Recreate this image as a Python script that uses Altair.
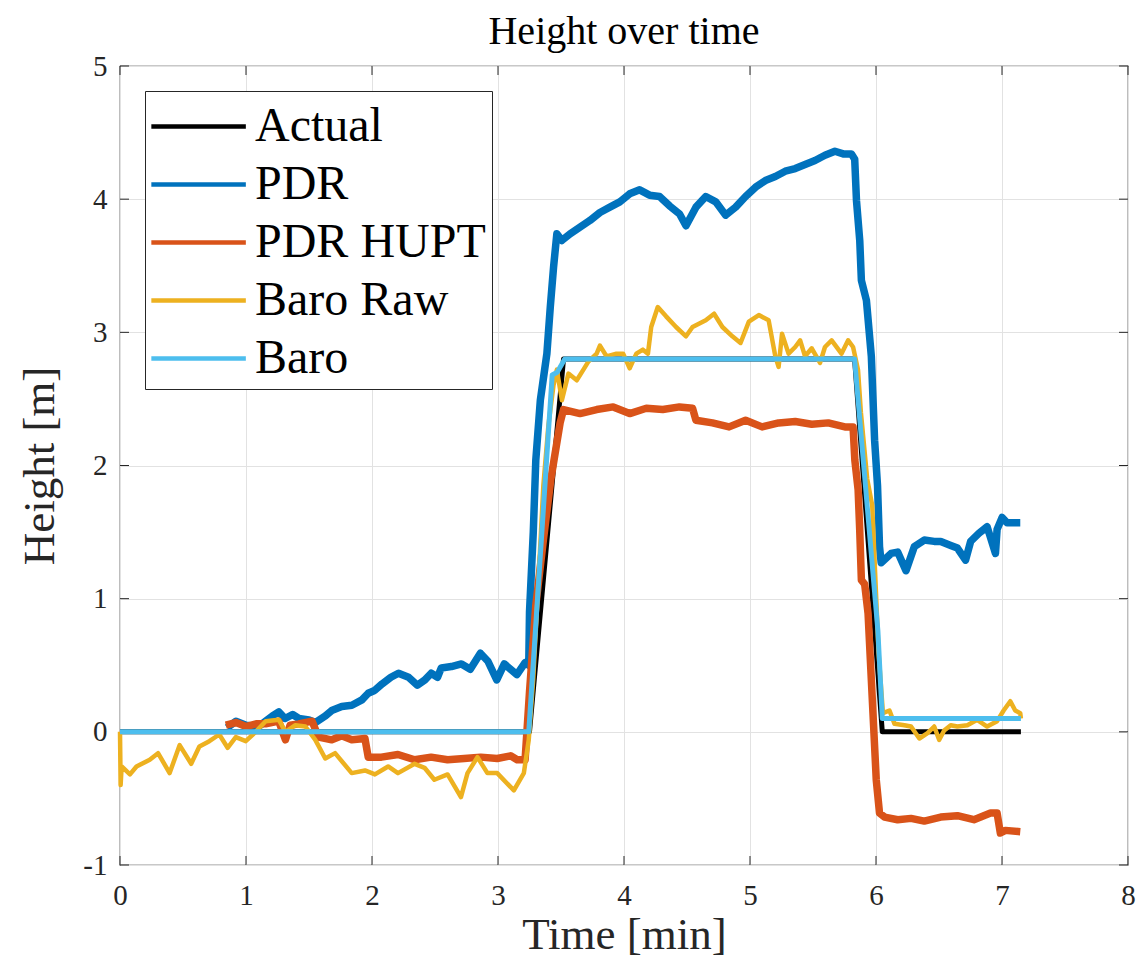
import altair as alt
import pandas as pd

names = ["Actual", "PDR", "PDR HUPT", "Baro Raw", "Baro"]
colors = ["#000000", "#0072BD", "#D95319", "#EDB120", "#4DBEEE"]
widths = [5, 7.5, 7.5, 4.5, 5]

x_ticks = [0, 1, 2, 3, 4, 5, 6, 7, 8]
y_ticks = [-1, 0, 1, 2, 3, 4, 5]

actual = [(0.0, 0.0), (3.25, 0.0), (3.52, 2.8), (5.83, 2.8), (6.05, 0.0), (7.15, 0.0)]

pdr = [(0.85, 0.03), (0.92, 0.08), (1.00, 0.05), (1.10, 0.04), (1.21, 0.12), (1.26, 0.15),
       (1.31, 0.10), (1.37, 0.13), (1.42, 0.10), (1.50, 0.09), (1.55, 0.07), (1.63, 0.12),
       (1.68, 0.16), (1.76, 0.19), (1.84, 0.20), (1.92, 0.24), (1.97, 0.29), (2.02, 0.31),
       (2.08, 0.36), (2.15, 0.41), (2.21, 0.44), (2.29, 0.41), (2.36, 0.35), (2.42, 0.39),
       (2.47, 0.44), (2.52, 0.41), (2.55, 0.48), (2.63, 0.49), (2.71, 0.51), (2.78, 0.47),
       (2.86, 0.59), (2.92, 0.53), (2.99, 0.39), (3.05, 0.51), (3.15, 0.43), (3.215, 0.52),
       (3.244, 0.50), (3.25, 0.90), (3.28, 1.50), (3.30, 2.04), (3.336, 2.49), (3.388, 2.84),
       (3.415, 3.19), (3.441, 3.49), (3.467, 3.74), (3.507, 3.69), (3.572, 3.74), (3.651, 3.79),
       (3.730, 3.84), (3.809, 3.90), (3.888, 3.94), (3.967, 3.98), (4.045, 4.04), (4.124, 4.07),
       (4.203, 4.03), (4.282, 4.02), (4.361, 3.95), (4.440, 3.89), (4.492, 3.80), (4.571, 3.94),
       (4.649, 4.02), (4.728, 3.98), (4.807, 3.88), (4.886, 3.94), (4.965, 4.02), (5.044, 4.09),
       (5.122, 4.14), (5.201, 4.17), (5.280, 4.21), (5.359, 4.23), (5.437, 4.26), (5.516, 4.29),
       (5.595, 4.33), (5.674, 4.36), (5.740, 4.34), (5.805, 4.34), (5.831, 4.30), (5.845, 3.99),
       (5.871, 3.69), (5.884, 3.39), (5.924, 3.24), (5.963, 2.82), (5.989, 2.19), (6.012, 1.85),
       (6.028, 1.39), (6.041, 1.27), (6.120, 1.34), (6.172, 1.35), (6.238, 1.21), (6.304, 1.39),
       (6.383, 1.44), (6.462, 1.43), (6.514, 1.43), (6.593, 1.40), (6.646, 1.38), (6.711, 1.29),
       (6.751, 1.43), (6.816, 1.49), (6.882, 1.54), (6.948, 1.34), (6.961, 1.52), (7.001, 1.61),
       (7.040, 1.57), (7.145, 1.57)]

pdr_hupt = [(0.84, 0.05), (0.92, 0.07), (1.00, 0.04), (1.08, 0.06), (1.156, 0.06), (1.26, 0.08),
            (1.313, -0.06), (1.35, 0.05), (1.418, 0.06), (1.524, 0.08), (1.576, -0.04),
            (1.681, -0.06), (1.76, -0.03), (1.839, -0.06), (1.944, -0.05), (1.970, -0.19),
            (2.075, -0.19), (2.206, -0.17), (2.338, -0.21), (2.469, -0.19), (2.600, -0.21),
            (2.732, -0.20), (2.863, -0.19), (2.994, -0.20), (3.10, -0.18), (3.152, -0.21),
            (3.215, -0.21), (3.25, 0.30), (3.30, 0.95), (3.36, 1.44), (3.42, 1.90), (3.493, 2.32),
            (3.52, 2.42), (3.651, 2.39), (3.783, 2.42), (3.914, 2.44), (4.045, 2.39), (4.177, 2.43),
            (4.308, 2.42), (4.440, 2.44), (4.544, 2.43), (4.571, 2.34), (4.702, 2.32), (4.834, 2.29),
            (4.965, 2.34), (5.096, 2.29), (5.227, 2.32), (5.359, 2.33), (5.490, 2.31), (5.621, 2.32),
            (5.753, 2.29), (5.818, 2.29), (5.832, 2.04), (5.858, 1.82), (5.871, 1.51), (5.884, 1.14),
            (5.910, 1.11), (5.937, 0.89), (5.976, 0.14), (6.002, -0.36), (6.028, -0.61),
            (6.068, -0.64), (6.172, -0.66), (6.278, -0.65), (6.383, -0.67), (6.514, -0.64),
            (6.646, -0.63), (6.777, -0.66), (6.909, -0.61), (6.961, -0.61), (6.987, -0.76),
            (7.027, -0.74), (7.145, -0.75)]

baro_raw = [(0.0, 0.0), (0.005, -0.40), (0.013, -0.26), (0.079, -0.32), (0.131, -0.26),
            (0.236, -0.21), (0.302, -0.16), (0.394, -0.31), (0.473, -0.10), (0.565, -0.24),
            (0.630, -0.11), (0.709, -0.07), (0.788, -0.02), (0.854, -0.12), (0.919, -0.04),
            (0.998, -0.07), (1.077, 0.0), (1.156, 0.08), (1.261, 0.09), (1.313, 0.0),
            (1.392, 0.05), (1.471, 0.04), (1.550, -0.06), (1.629, -0.20), (1.707, -0.16),
            (1.839, -0.31), (1.944, -0.29), (2.023, -0.32), (2.128, -0.26), (2.206, -0.31),
            (2.338, -0.24), (2.417, -0.27), (2.495, -0.36), (2.600, -0.32), (2.706, -0.49),
            (2.758, -0.31), (2.837, -0.19), (2.916, -0.31), (2.994, -0.31), (3.126, -0.44),
            (3.205, -0.31), (3.244, -0.06), (3.28, 0.40), (3.33, 1.30), (3.36, 1.85), (3.40, 2.30),
            (3.44, 2.60), (3.467, 2.72), (3.507, 2.49), (3.559, 2.69), (3.625, 2.64), (3.678, 2.72),
            (3.717, 2.78), (3.783, 2.84), (3.809, 2.90), (3.861, 2.82), (3.940, 2.84), (3.993, 2.84),
            (4.045, 2.73), (4.098, 2.84), (4.150, 2.87), (4.190, 2.84), (4.216, 3.04), (4.268, 3.19),
            (4.334, 3.12), (4.413, 3.04), (4.492, 2.97), (4.544, 3.04), (4.649, 3.09), (4.715, 3.14),
            (4.781, 3.04), (4.860, 2.97), (4.925, 2.92), (4.991, 3.08), (5.070, 3.13), (5.148, 3.09),
            (5.201, 2.82), (5.227, 2.74), (5.254, 2.99), (5.306, 2.84), (5.359, 2.89), (5.398, 2.94),
            (5.437, 2.82), (5.490, 2.88), (5.556, 2.77), (5.595, 2.89), (5.648, 2.94), (5.726, 2.84),
            (5.779, 2.94), (5.818, 2.89), (5.857, 2.72), (5.88, 2.40), (5.93, 1.90), (5.97, 1.70),
            (6.02, 0.60), (6.055, 0.14), (6.107, 0.16), (6.147, 0.06), (6.225, 0.05), (6.278, 0.04),
            (6.344, -0.05), (6.409, -0.01), (6.462, 0.04), (6.501, -0.06), (6.541, 0.01),
            (6.593, 0.05), (6.646, 0.04), (6.725, 0.05), (6.803, 0.09), (6.882, 0.04), (6.961, 0.08),
            (7.013, 0.16), (7.066, 0.23), (7.105, 0.16), (7.145, 0.14), (7.15, 0.10)]

baro = [(0.0, 0.0), (3.244, 0.0), (3.43, 2.68), (3.47, 2.70), (3.53, 2.80), (5.83, 2.80),
        (6.015, 0.76), (6.05, 0.10), (7.15, 0.10)]

series = [actual, pdr, pdr_hupt, baro_raw, baro]

FONT = "Liberation Serif"
AXIS_COLOR = "#262626"
PLOT_W = 1008
PLOT_H = 799

x_scale = alt.Scale(domain=[0, 8], nice=False, zero=False)
y_scale = alt.Scale(domain=[-1, 5], nice=False, zero=False)

x_axis = alt.Axis(values=x_ticks, labelExpr="'' + datum.value", title="Time [min]",
                  titleFont=FONT, titleFontSize=45, titleFontWeight="normal", titleColor=AXIS_COLOR,
                  labelFont=FONT, labelFontSize=29, labelColor=AXIS_COLOR, labelPadding=16,
                  titlePadding=2, grid=True, domain=False, ticks=False, labelFlush=False)
y_axis = alt.Axis(values=y_ticks, labelExpr="'' + datum.value", title="Height [m]",
                  titleFont=FONT, titleFontSize=45, titleFontWeight="normal", titleColor=AXIS_COLOR,
                  labelFont=FONT, labelFontSize=29, labelColor=AXIS_COLOR, labelPadding=13,
                  titlePadding=20, grid=True, domain=False, ticks=False, labelFlush=False)

legend = alt.Legend(title=None, orient="none", legendX=25, legendY=25,
                    symbolType="M-1.08,0H2.42", symbolSize=2916, symbolStrokeWidth=4.5,
                    labelFont=FONT, labelFontSize=48, labelColor="black", labelOffset=45,
                    labelLimit=0, padding=6, rowPadding=4, strokeColor=AXIS_COLOR,
                    fillColor="white", cornerRadius=0)

color = alt.Color("series:N", scale=alt.Scale(domain=names, range=colors), legend=legend)

layers = []
# tick marks (inward, on all four sides)
tick_len_x = 9 / (PLOT_W / 8)
tick_len_y = 9 / (PLOT_H / 6)
tick_rows = []
for v in x_ticks:
    tick_rows.append(dict(x=v, x2=v, y=-1, y2=-1 + tick_len_y))
    tick_rows.append(dict(x=v, x2=v, y=5 - tick_len_y, y2=5))
for v in y_ticks:
    tick_rows.append(dict(x=0, x2=tick_len_x, y=v, y2=v))
    tick_rows.append(dict(x=8 - tick_len_x, x2=8, y=v, y2=v))
ticks = alt.Chart(pd.DataFrame(tick_rows)).mark_rule(color=AXIS_COLOR, strokeWidth=1).encode(
    x=alt.X("x:Q", scale=x_scale, axis=x_axis),
    x2="x2:Q",
    y=alt.Y("y:Q", scale=y_scale, axis=y_axis),
    y2="y2:Q",
)
layers.append(ticks)

for name, pts, sw in zip(names, series, widths):
    d = pd.DataFrame(pts, columns=["t", "h"])
    d["series"] = name
    d["order"] = range(len(d))
    layers.append(
        alt.Chart(d).mark_line(strokeWidth=sw, strokeJoin="round", strokeCap="butt").encode(
            x=alt.X("t:Q", scale=x_scale, axis=x_axis),
            y=alt.Y("h:Q", scale=y_scale, axis=y_axis),
            color=color,
            order="order:Q",
        )
    )

chart = alt.layer(*layers).properties(
    width=PLOT_W, height=PLOT_H,
    title=alt.Title("Height over time", font=FONT, fontSize=40, fontWeight="normal",
                    color="black", offset=0, anchor="middle"),
    autosize=alt.AutoSizeParams(type="none"),
    padding={"left": 112, "top": 58, "right": 9, "bottom": 96},
).configure_view(stroke=AXIS_COLOR, strokeWidth=1.2).configure_axis(
    gridColor="#e2e2e2", gridWidth=1
)

chart.save("out.html", embed_options={"renderer": "svg", "actions": False})
